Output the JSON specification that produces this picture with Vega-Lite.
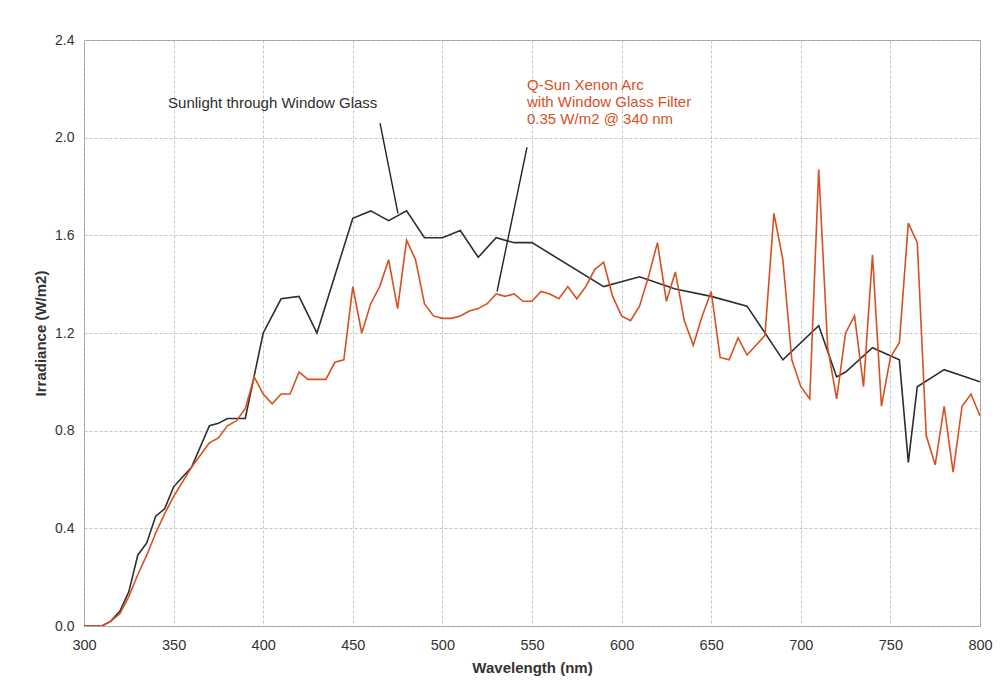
{
  "$schema": "https://vega.github.io/schema/vega-lite/v6.json",
  "autosize": "none",
  "width": 896,
  "height": 586,
  "padding": {"left": 84, "top": 40, "right": 21, "bottom": 72},
  "background": "white",
  "config": {
    "font": "Liberation Sans",
    "view": {"stroke": "#9a9a9a", "strokeWidth": 1},
    "axis": {
      "domain": false,
      "ticks": false,
      "grid": true,
      "gridColor": "#b8b8b8",
      "gridDash": [3, 2],
      "gridWidth": 0.8,
      "labelFont": "Liberation Sans",
      "labelFontSize": 14,
      "labelColor": "#333333",
      "titleFont": "Liberation Sans",
      "titleFontSize": 15,
      "titleFontWeight": "bold",
      "titleColor": "#333333"
    }
  },
  "datasets": {
    "spectra": [
      {"series": "Sunlight", "nm": 300, "irr": 0},
      {"series": "Sunlight", "nm": 305, "irr": 0},
      {"series": "Sunlight", "nm": 310, "irr": 0},
      {"series": "Sunlight", "nm": 315, "irr": 0.02},
      {"series": "Sunlight", "nm": 320, "irr": 0.06},
      {"series": "Sunlight", "nm": 325, "irr": 0.14},
      {"series": "Sunlight", "nm": 330, "irr": 0.29},
      {"series": "Sunlight", "nm": 335, "irr": 0.34},
      {"series": "Sunlight", "nm": 340, "irr": 0.45},
      {"series": "Sunlight", "nm": 345, "irr": 0.48},
      {"series": "Sunlight", "nm": 350, "irr": 0.57},
      {"series": "Sunlight", "nm": 355, "irr": 0.61},
      {"series": "Sunlight", "nm": 360, "irr": 0.65},
      {"series": "Sunlight", "nm": 370, "irr": 0.82},
      {"series": "Sunlight", "nm": 375, "irr": 0.83},
      {"series": "Sunlight", "nm": 380, "irr": 0.85},
      {"series": "Sunlight", "nm": 385, "irr": 0.85},
      {"series": "Sunlight", "nm": 390, "irr": 0.85},
      {"series": "Sunlight", "nm": 400, "irr": 1.2},
      {"series": "Sunlight", "nm": 410, "irr": 1.34},
      {"series": "Sunlight", "nm": 420, "irr": 1.35},
      {"series": "Sunlight", "nm": 430, "irr": 1.2},
      {"series": "Sunlight", "nm": 450, "irr": 1.67},
      {"series": "Sunlight", "nm": 460, "irr": 1.7},
      {"series": "Sunlight", "nm": 470, "irr": 1.66},
      {"series": "Sunlight", "nm": 480, "irr": 1.7},
      {"series": "Sunlight", "nm": 490, "irr": 1.59},
      {"series": "Sunlight", "nm": 500, "irr": 1.59},
      {"series": "Sunlight", "nm": 510, "irr": 1.62},
      {"series": "Sunlight", "nm": 520, "irr": 1.51},
      {"series": "Sunlight", "nm": 530, "irr": 1.59},
      {"series": "Sunlight", "nm": 540, "irr": 1.57},
      {"series": "Sunlight", "nm": 550, "irr": 1.57},
      {"series": "Sunlight", "nm": 590, "irr": 1.39},
      {"series": "Sunlight", "nm": 610, "irr": 1.43},
      {"series": "Sunlight", "nm": 630, "irr": 1.38},
      {"series": "Sunlight", "nm": 650, "irr": 1.35},
      {"series": "Sunlight", "nm": 670, "irr": 1.31},
      {"series": "Sunlight", "nm": 690, "irr": 1.09},
      {"series": "Sunlight", "nm": 710, "irr": 1.23},
      {"series": "Sunlight", "nm": 720, "irr": 1.02},
      {"series": "Sunlight", "nm": 725, "irr": 1.04},
      {"series": "Sunlight", "nm": 740, "irr": 1.14},
      {"series": "Sunlight", "nm": 755, "irr": 1.09},
      {"series": "Sunlight", "nm": 760, "irr": 0.67},
      {"series": "Sunlight", "nm": 765, "irr": 0.98},
      {"series": "Sunlight", "nm": 780, "irr": 1.05},
      {"series": "Sunlight", "nm": 800, "irr": 1.0},
      {"series": "QSun", "nm": 300, "irr": 0},
      {"series": "QSun", "nm": 305, "irr": 0},
      {"series": "QSun", "nm": 310, "irr": 0},
      {"series": "QSun", "nm": 315, "irr": 0.02},
      {"series": "QSun", "nm": 320, "irr": 0.05},
      {"series": "QSun", "nm": 325, "irr": 0.12},
      {"series": "QSun", "nm": 330, "irr": 0.21},
      {"series": "QSun", "nm": 335, "irr": 0.29},
      {"series": "QSun", "nm": 340, "irr": 0.38},
      {"series": "QSun", "nm": 345, "irr": 0.46},
      {"series": "QSun", "nm": 350, "irr": 0.53},
      {"series": "QSun", "nm": 355, "irr": 0.59},
      {"series": "QSun", "nm": 360, "irr": 0.65},
      {"series": "QSun", "nm": 365, "irr": 0.7},
      {"series": "QSun", "nm": 370, "irr": 0.75},
      {"series": "QSun", "nm": 375, "irr": 0.77},
      {"series": "QSun", "nm": 380, "irr": 0.82},
      {"series": "QSun", "nm": 385, "irr": 0.84},
      {"series": "QSun", "nm": 390, "irr": 0.89},
      {"series": "QSun", "nm": 395, "irr": 1.02},
      {"series": "QSun", "nm": 400, "irr": 0.95},
      {"series": "QSun", "nm": 405, "irr": 0.91},
      {"series": "QSun", "nm": 410, "irr": 0.95},
      {"series": "QSun", "nm": 415, "irr": 0.95},
      {"series": "QSun", "nm": 420, "irr": 1.04},
      {"series": "QSun", "nm": 425, "irr": 1.01},
      {"series": "QSun", "nm": 430, "irr": 1.01},
      {"series": "QSun", "nm": 435, "irr": 1.01},
      {"series": "QSun", "nm": 440, "irr": 1.08},
      {"series": "QSun", "nm": 445, "irr": 1.09},
      {"series": "QSun", "nm": 450, "irr": 1.39},
      {"series": "QSun", "nm": 455, "irr": 1.2},
      {"series": "QSun", "nm": 460, "irr": 1.32},
      {"series": "QSun", "nm": 465, "irr": 1.39},
      {"series": "QSun", "nm": 470, "irr": 1.5},
      {"series": "QSun", "nm": 475, "irr": 1.3},
      {"series": "QSun", "nm": 480, "irr": 1.58},
      {"series": "QSun", "nm": 485, "irr": 1.5},
      {"series": "QSun", "nm": 490, "irr": 1.32},
      {"series": "QSun", "nm": 495, "irr": 1.27},
      {"series": "QSun", "nm": 500, "irr": 1.26},
      {"series": "QSun", "nm": 505, "irr": 1.26},
      {"series": "QSun", "nm": 510, "irr": 1.27},
      {"series": "QSun", "nm": 515, "irr": 1.29},
      {"series": "QSun", "nm": 520, "irr": 1.3},
      {"series": "QSun", "nm": 525, "irr": 1.32},
      {"series": "QSun", "nm": 530, "irr": 1.36},
      {"series": "QSun", "nm": 535, "irr": 1.35},
      {"series": "QSun", "nm": 540, "irr": 1.36},
      {"series": "QSun", "nm": 545, "irr": 1.33},
      {"series": "QSun", "nm": 550, "irr": 1.33},
      {"series": "QSun", "nm": 555, "irr": 1.37},
      {"series": "QSun", "nm": 560, "irr": 1.36},
      {"series": "QSun", "nm": 565, "irr": 1.34},
      {"series": "QSun", "nm": 570, "irr": 1.39},
      {"series": "QSun", "nm": 575, "irr": 1.34},
      {"series": "QSun", "nm": 580, "irr": 1.39},
      {"series": "QSun", "nm": 585, "irr": 1.46},
      {"series": "QSun", "nm": 590, "irr": 1.49},
      {"series": "QSun", "nm": 595, "irr": 1.35},
      {"series": "QSun", "nm": 600, "irr": 1.27},
      {"series": "QSun", "nm": 605, "irr": 1.25},
      {"series": "QSun", "nm": 610, "irr": 1.31},
      {"series": "QSun", "nm": 615, "irr": 1.43},
      {"series": "QSun", "nm": 620, "irr": 1.57},
      {"series": "QSun", "nm": 625, "irr": 1.33},
      {"series": "QSun", "nm": 630, "irr": 1.45},
      {"series": "QSun", "nm": 635, "irr": 1.25},
      {"series": "QSun", "nm": 640, "irr": 1.15},
      {"series": "QSun", "nm": 645, "irr": 1.27},
      {"series": "QSun", "nm": 650, "irr": 1.37},
      {"series": "QSun", "nm": 655, "irr": 1.1},
      {"series": "QSun", "nm": 660, "irr": 1.09},
      {"series": "QSun", "nm": 665, "irr": 1.18},
      {"series": "QSun", "nm": 670, "irr": 1.11},
      {"series": "QSun", "nm": 675, "irr": 1.15},
      {"series": "QSun", "nm": 680, "irr": 1.19},
      {"series": "QSun", "nm": 685, "irr": 1.69},
      {"series": "QSun", "nm": 690, "irr": 1.5},
      {"series": "QSun", "nm": 695, "irr": 1.09},
      {"series": "QSun", "nm": 700, "irr": 0.98},
      {"series": "QSun", "nm": 705, "irr": 0.93},
      {"series": "QSun", "nm": 710, "irr": 1.87},
      {"series": "QSun", "nm": 715, "irr": 1.14},
      {"series": "QSun", "nm": 720, "irr": 0.93},
      {"series": "QSun", "nm": 725, "irr": 1.2},
      {"series": "QSun", "nm": 730, "irr": 1.27},
      {"series": "QSun", "nm": 735, "irr": 0.98},
      {"series": "QSun", "nm": 740, "irr": 1.52},
      {"series": "QSun", "nm": 745, "irr": 0.9},
      {"series": "QSun", "nm": 750, "irr": 1.1},
      {"series": "QSun", "nm": 755, "irr": 1.16},
      {"series": "QSun", "nm": 760, "irr": 1.65},
      {"series": "QSun", "nm": 765, "irr": 1.57},
      {"series": "QSun", "nm": 770, "irr": 0.78},
      {"series": "QSun", "nm": 775, "irr": 0.66},
      {"series": "QSun", "nm": 780, "irr": 0.9},
      {"series": "QSun", "nm": 785, "irr": 0.63},
      {"series": "QSun", "nm": 790, "irr": 0.9},
      {"series": "QSun", "nm": 795, "irr": 0.95},
      {"series": "QSun", "nm": 800, "irr": 0.86}
    ],
    "leaders": [
      {"nm": 465.2, "irr": 2.06, "nm2": 475.2, "irr2": 1.69},
      {"nm": 547.2, "irr": 1.96, "nm2": 530.5, "irr2": 1.37}
    ],
    "labels": [
      {"series": "Sunlight", "nm": 346.9, "irr": 2.14, "text": "Sunlight through Window Glass"},
      {"series": "QSun", "nm": 547.2, "irr": 2.217, "text": "Q-Sun Xenon Arc"},
      {"series": "QSun", "nm": 547.2, "irr": 2.148, "text": "with Window Glass Filter"},
      {"series": "QSun", "nm": 547.2, "irr": 2.078, "text": "0.35 W/m2 @ 340 nm"}
    ]
  },
  "layer": [
    {
      "data": {"name": "spectra"},
      "mark": {"type": "line", "strokeWidth": 1.6, "clip": true},
      "encoding": {
        "x": {
          "field": "nm", "type": "quantitative",
          "scale": {"domain": [300, 800], "nice": false, "zero": false},
          "axis": {"title": "Wavelength (nm)", "values": [300, 350, 400, 450, 500, 550, 600, 650, 700, 750, 800], "labelFlush": false, "labelFontSize": 14.5, "labelPadding": 12, "titlePadding": 9}
        },
        "y": {
          "field": "irr", "type": "quantitative",
          "scale": {"domain": [0, 2.4], "nice": false},
          "axis": {"title": "Irradiance (W/m2)", "values": [0, 0.4, 0.8, 1.2, 1.6, 2.0, 2.4], "format": ".1f", "labelPadding": 10, "titlePadding": 6}
        },
        "color": {
          "field": "series", "type": "nominal",
          "scale": {"domain": ["Sunlight", "QSun"], "range": ["#2e2e2e", "#d8501f"]},
          "legend": null
        },
        "order": {"field": "nm", "type": "quantitative"}
      }
    },
    {
      "data": {"name": "leaders"},
      "mark": {"type": "rule", "color": "#222222", "strokeWidth": 1.4},
      "encoding": {
        "x": {"field": "nm", "type": "quantitative"},
        "y": {"field": "irr", "type": "quantitative"},
        "x2": {"field": "nm2"},
        "y2": {"field": "irr2"}
      }
    },
    {
      "data": {"name": "labels"},
      "mark": {"type": "text", "align": "left", "baseline": "middle", "fontSize": 15, "font": "Liberation Sans"},
      "encoding": {
        "x": {"field": "nm", "type": "quantitative"},
        "y": {"field": "irr", "type": "quantitative"},
        "text": {"field": "text"},
        "color": {
          "field": "series", "type": "nominal",
          "scale": {"domain": ["Sunlight", "QSun"], "range": ["#2e2e2e", "#d8501f"]},
          "legend": null
        }
      }
    }
  ]
}
